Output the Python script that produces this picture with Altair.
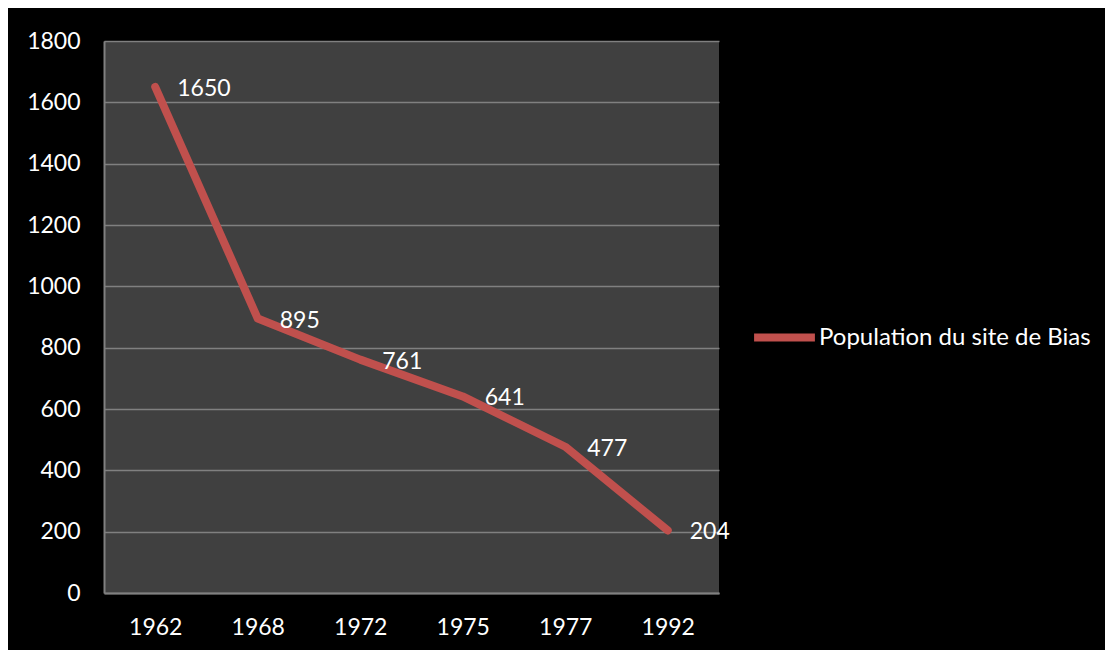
import altair as alt
import pandas as pd

years = ["1962", "1968", "1972", "1975", "1977", "1992"]
population = [1650, 895, 761, 641, 477, 204]
series = "Population du site de Bias"

df = pd.DataFrame({"year": years, "pop": population, "series": [series] * len(years)})

FONT = "Lato"
FS = 23

base = alt.Chart(df).encode(
    x=alt.X("year:O", sort=years, title=None,
            axis=alt.Axis(labelAngle=0, ticks=False, labelPadding=23,
                          domainColor="#808080", domainWidth=2, grid=False)),
    y=alt.Y("pop:Q", title=None,
            scale=alt.Scale(domain=[0, 1800], nice=False),
            axis=alt.Axis(values=list(range(0, 1801, 200)), format="d", ticks=False,
                          labelPadding=24,
                          domainColor="#808080", domainWidth=2,
                          gridColor="#808080", gridWidth=1.5)),
)

line = base.mark_line(strokeWidth=8, strokeCap="round", strokeJoin="round").encode(
    color=alt.Color("series:N", scale=alt.Scale(range=["#C0504D"]), title=None,
                    legend=alt.Legend(orient="none", legendX=646, legendY=262,
                                      symbolType="stroke", symbolSize=3700,
                                      symbolStrokeWidth=8, labelOffset=0,
                                      labelColor="white", labelFont=FONT,
                                      labelFontSize=24, labelLimit=400))
)

labels = base.mark_text(align="left", baseline="middle", dx=22, dy=2, color="white",
                        font=FONT, fontSize=FS).encode(text="pop:Q")

chart = (line + labels).properties(
    width=615, height=552,
    background="black",
    padding={"left": 96, "top": 33, "right": 386, "bottom": 57},
    autosize=alt.AutoSizeParams(type="none"),
).configure_view(fill="#404040", stroke=None).configure_axis(
    labelColor="white", labelFont=FONT, labelFontSize=FS
)

chart.save("out.html", embed_options={"renderer": "svg", "actions": False})
